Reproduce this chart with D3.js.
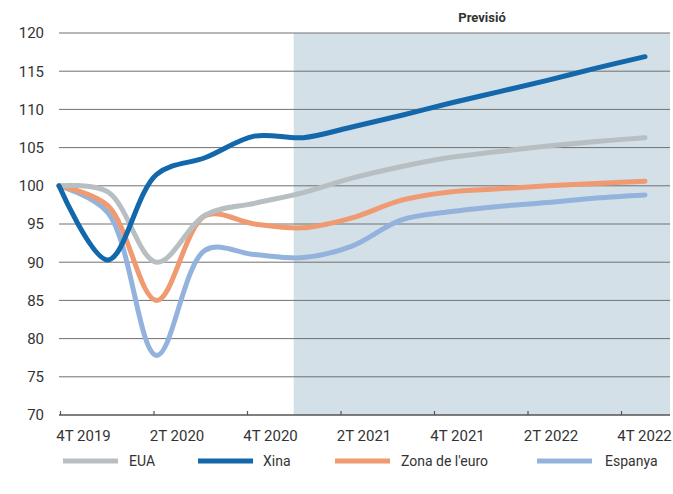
<!DOCTYPE html>
<html>
<head>
<meta charset="utf-8">
<script src="https://cdn.jsdelivr.net/npm/d3@7"></script>
<style>
  html, body { margin: 0; padding: 0; background: #ffffff; }
  svg { display: block; }
  text { font-family: 'Liberation Sans Narrow', 'Roboto', 'Open Sans', sans-serif; fill: #333333; }
</style>
</head>
<body>
<svg id="chart" width="673" height="494"></svg>
<script>
// Quarterly GDP index, 4T 2019 = 100
const quarters = ['4T 2019', '1T 2020', '2T 2020', '3T 2020', '4T 2020', '1T 2021', '2T 2021',
                  '3T 2021', '4T 2021', '1T 2022', '2T 2022', '3T 2022', '4T 2022'];
const eua      = [100, 99.2, 90.0, 96.2, 97.7, 99.1, 101.0, 102.5, 103.7, 104.5, 105.2, 105.8, 106.3];
const xina     = [100, 90.3, 101.5, 103.7, 106.5, 106.3, 107.7, 109.2, 110.8, 112.3, 113.8, 115.4, 116.9];
const zonaEuro = [100, 97.4, 85.0, 96.1, 95.0, 94.5, 95.8, 98.1, 99.2, 99.6, 100.0, 100.3, 100.6];
const espanya  = [100, 96.5, 77.8, 91.6, 91.0, 90.6, 92.1, 95.5, 96.6, 97.3, 97.8, 98.4, 98.8];

const seriesNames = ['EUA', 'Xina', "Zona de l'euro", 'Espanya'];
const yTicks = [70, 75, 80, 85, 90, 95, 100, 105, 110, 115, 120];
const xTickLabels = ['4T 2019', '2T 2020', '4T 2020', '2T 2021', '4T 2021', '2T 2022', '4T 2022'];
const forecastFrom = '1T 2021';
const forecastLabel = 'Previsió';

const colors = {
  'EUA': '#b8bfc3',
  'Xina': '#1367ab',
  "Zona de l'euro": '#ef9a70',
  'Espanya': '#93b3dd'
};
const seriesData = {
  'EUA': eua,
  'Xina': xina,
  "Zona de l'euro": zonaEuro,
  'Espanya': espanya
};

const svg = d3.select('#chart');
const plotLeft = 59, plotRight = 670, plotTop = 33, plotBottom = 415;

const y = d3.scaleLinear().domain([70, 120]).range([plotBottom, plotTop]);
// data points
const x = d3.scalePoint().domain(quarters).range([59, 645]);
// axis ticks and forecast band
const xAxisScale = d3.scalePoint().domain(quarters).range([60, 621]);

// forecast band
svg.append('rect')
  .attr('x', xAxisScale(forecastFrom))
  .attr('y', y(120))
  .attr('width', plotRight - xAxisScale(forecastFrom))
  .attr('height', y(70) - y(120))
  .attr('fill', '#d4e0e8');

svg.append('text')
  .attr('x', 482)
  .attr('y', 22)
  .attr('text-anchor', 'middle')
  .attr('font-size', 13)
  .attr('font-weight', 'bold')
  .text(forecastLabel);

// horizontal grid
svg.append('g')
  .selectAll('line')
  .data(yTicks.filter(t => t > 70))
  .join('line')
  .attr('x1', plotLeft).attr('x2', plotRight)
  .attr('y1', d => y(d)).attr('y2', d => y(d))
  .attr('stroke', '#707070')
  .attr('stroke-width', 1);

// y labels
const yAxis = d3.axisLeft(y).tickValues(yTicks).tickSize(0).tickPadding(0);
svg.append('g')
  .attr('transform', `translate(${44},0)`)
  .call(yAxis)
  .call(g => g.select('.domain').remove())
  .call(g => g.selectAll('text')
    .attr('font-size', 15)
    .attr('fill', '#333')
    .attr('font-family', "'Liberation Sans Narrow', 'Roboto', sans-serif"));

// x axis
const xAxis = d3.axisBottom(xAxisScale)
  .tickValues(xTickLabels)
  .tickSize(-4)
  .tickPadding(0);
const gx = svg.append('g')
  .attr('transform', `translate(0,${plotBottom})`)
  .call(xAxis);
gx.select('.domain').remove();
gx.selectAll('.tick line').attr('stroke', '#555').attr('stroke-width', 1.2);
gx.selectAll('.tick text')
  .attr('font-size', 15)
  .attr('fill', '#333')
  .attr('font-family', "'Liberation Sans Narrow', 'Roboto', sans-serif")
  .attr('dx', 23)
  .attr('dy', 26)
  .attr('y', 0);
gx.append('line')
  .attr('x1', plotLeft).attr('x2', plotRight)
  .attr('y1', 0).attr('y2', 0)
  .attr('stroke', '#555').attr('stroke-width', 1.3);

// series lines
const line = d3.line()
  .x((d, i) => x(quarters[i]))
  .y(d => y(d))
  .curve(d3.curveCatmullRom.alpha(0.5));

const drawOrder = ['Espanya', "Zona de l'euro", 'EUA', 'Xina'];
svg.append('g')
  .selectAll('path')
  .data(drawOrder)
  .join('path')
  .attr('d', d => line(seriesData[d]))
  .attr('fill', 'none')
  .attr('stroke', d => colors[d])
  .attr('stroke-width', 5)
  .attr('stroke-linecap', 'round')
  .attr('stroke-linejoin', 'round');

// legend
const legendPos = [63, 198, 335, 537];
const lg = svg.append('g').attr('transform', 'translate(0,461)');
const items = lg.selectAll('g')
  .data(seriesNames)
  .join('g')
  .attr('transform', (d, i) => `translate(${legendPos[i]},0)`);
items.append('line')
  .attr('x1', 0).attr('x2', 55)
  .attr('y1', 0).attr('y2', 0)
  .attr('stroke', d => colors[d])
  .attr('stroke-width', 5);
items.append('text')
  .attr('x', d => d === 'EUA' ? 66 : (d === 'Xina' ? 65 : (d === 'Espanya' ? 68 : 66)))
  .attr('y', 5)
  .attr('font-size', 14)
  .text(d => d);
</script>
</body>
</html>
